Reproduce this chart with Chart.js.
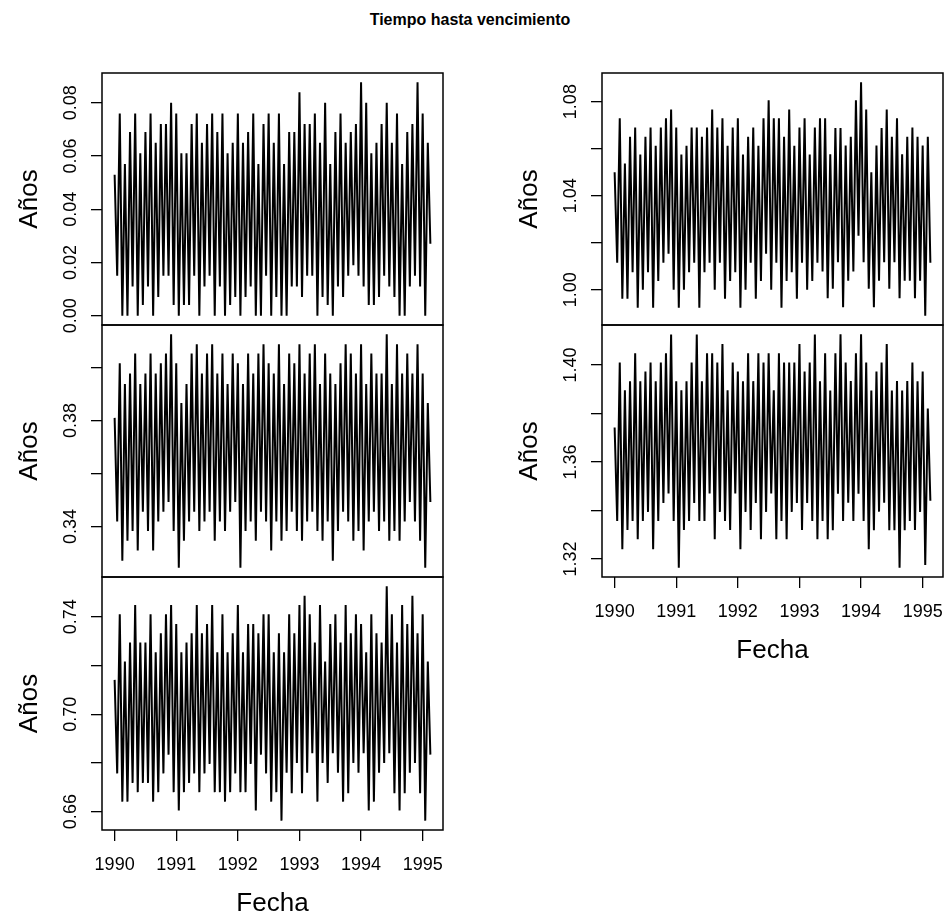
<!DOCTYPE html>
<html lang="es">
<head>
<meta charset="utf-8">
<title>Tiempo hasta vencimiento</title>
<script src="https://cdn.jsdelivr.net/npm/chart.js@4.4.1/dist/chart.umd.min.js"></script>
<style>
  body { margin: 0; background: #fff; width: 945px; height: 919px; position: relative; overflow: hidden; font-family: 'Liberation Sans', Arial, sans-serif; }
  canvas { position: absolute; }
  #titulo { position: absolute; top: 11px; left: 470px; transform: translateX(-50%); font-weight: bold; font-size: 16px; white-space: nowrap; color: #000; }
</style>
</head>
<body>
<div id="titulo">Tiempo hasta vencimiento</div>
<script>
// serie semi-mensual: 24 observaciones por año desde 1990
const inicio = 1990;
const frecuencia = 24;
const anios = [1990, 1991, 1992, 1993, 1994, 1995];

const serie1 = [
  0.053, 0.015, 0.076, 0.000, 0.057, 0.000, 0.069, 0.011, 0.076, 0.000,
  0.061, 0.004, 0.069, 0.011, 0.076, 0.000, 0.065, 0.007, 0.072, 0.015,
  0.072, 0.015, 0.080, 0.004, 0.076, 0.000, 0.061, 0.004, 0.061, 0.004,
  0.072, 0.015, 0.076, 0.000, 0.065, 0.011, 0.072, 0.015, 0.076, 0.000,
  0.069, 0.011, 0.076, 0.000, 0.061, 0.004, 0.065, 0.007, 0.076, 0.000,
  0.065, 0.007, 0.069, 0.011, 0.076, 0.000, 0.057, 0.000, 0.072, 0.015,
  0.076, 0.000, 0.065, 0.007, 0.076, 0.000, 0.057, 0.000, 0.069, 0.011,
  0.069, 0.011, 0.084, 0.007, 0.072, 0.015, 0.072, 0.015, 0.076, 0.000,
  0.065, 0.007, 0.080, 0.004, 0.057, 0.000, 0.069, 0.011, 0.076, 0.007,
  0.065, 0.015, 0.069, 0.019, 0.072, 0.015, 0.0877, 0.011, 0.080, 0.004,
  0.061, 0.004, 0.065, 0.007, 0.072, 0.015, 0.080, 0.011, 0.065, 0.007,
  0.076, 0.000, 0.057, 0.000, 0.069, 0.011, 0.072, 0.015, 0.0877, 0.011,
  0.076, 0.000, 0.065, 0.027
];

const serie2 = [
  0.3810, 0.3419, 0.4016, 0.3271, 0.3938, 0.3347, 0.3977, 0.3383, 0.4053, 0.3310,
  0.3938, 0.3456, 0.3977, 0.3383, 0.4053, 0.3310, 0.3977, 0.3419, 0.4016, 0.3456,
  0.4053, 0.3493, 0.4125, 0.3383, 0.4016, 0.3245, 0.3866, 0.3347, 0.3938, 0.3419,
  0.4053, 0.3456, 0.4088, 0.3383, 0.3977, 0.3419, 0.4053, 0.3456, 0.4088, 0.3347,
  0.3977, 0.3419, 0.4053, 0.3383, 0.3938, 0.3456, 0.4053, 0.3493, 0.4016, 0.3245,
  0.3938, 0.3383, 0.4053, 0.3419, 0.3977, 0.3347, 0.4053, 0.3456, 0.4088, 0.3419,
  0.4016, 0.3310, 0.3977, 0.3419, 0.4088, 0.3347, 0.3938, 0.3383, 0.4053, 0.3456,
  0.4016, 0.3383, 0.4088, 0.3347, 0.3977, 0.3419, 0.4053, 0.3456, 0.4088, 0.3383,
  0.3938, 0.3347, 0.4053, 0.3419, 0.3977, 0.3271, 0.3938, 0.3383, 0.4016, 0.3456,
  0.4088, 0.3419, 0.4053, 0.3347, 0.3977, 0.3383, 0.4088, 0.3310, 0.3938, 0.3419,
  0.4053, 0.3456, 0.3977, 0.3383, 0.3977, 0.3419, 0.4125, 0.3347, 0.3938, 0.3383,
  0.4088, 0.3347, 0.3977, 0.3419, 0.4053, 0.3493, 0.3977, 0.3419, 0.4088, 0.3347,
  0.3977, 0.3245, 0.3866, 0.3493
];

const serie3 = [
  0.7141, 0.6757, 0.7410, 0.6641, 0.7216, 0.6641, 0.7294, 0.6718, 0.7448, 0.6680,
  0.7294, 0.6718, 0.7294, 0.6718, 0.7410, 0.6641, 0.7254, 0.6680, 0.7332, 0.6757,
  0.7410, 0.6834, 0.7448, 0.6680, 0.7370, 0.6605, 0.7254, 0.6680, 0.7294, 0.6718,
  0.7332, 0.6757, 0.7448, 0.6680, 0.7332, 0.6757, 0.7370, 0.6796, 0.7448, 0.6680,
  0.7254, 0.6680, 0.7410, 0.6641, 0.7254, 0.6680, 0.7332, 0.6757, 0.7448, 0.6680,
  0.7254, 0.6680, 0.7370, 0.6796, 0.7370, 0.6605, 0.7332, 0.6834, 0.7410, 0.6757,
  0.7410, 0.6641, 0.7254, 0.6680, 0.7332, 0.6563, 0.7254, 0.6760, 0.7410, 0.6675,
  0.7332, 0.6800, 0.7448, 0.6675, 0.7486, 0.6760, 0.7410, 0.6840, 0.7294, 0.6641,
  0.7448, 0.6800, 0.7216, 0.6718, 0.7370, 0.6840, 0.7410, 0.6760, 0.7294, 0.6641,
  0.7448, 0.6675, 0.7332, 0.6800, 0.7410, 0.6760, 0.7370, 0.6840, 0.7254, 0.6605,
  0.7410, 0.6641, 0.7332, 0.6760, 0.7294, 0.6800, 0.7525, 0.6840, 0.7410, 0.6675,
  0.7294, 0.6605, 0.7448, 0.6675, 0.7370, 0.6760, 0.7486, 0.6800, 0.7332, 0.6675,
  0.7410, 0.6563, 0.7216, 0.6834
];

const serie4 = [
  1.0500, 1.0115, 1.0729, 0.9962, 1.0537, 0.9962, 1.0651, 1.0075, 1.0690, 0.9924,
  1.0575, 1.0000, 1.0651, 1.0075, 1.0690, 0.9924, 1.0612, 1.0037, 1.0690, 1.0115,
  1.0729, 1.0153, 1.0766, 1.0000, 1.0690, 0.9924, 1.0575, 1.0000, 1.0612, 1.0075,
  1.0690, 1.0115, 1.0690, 0.9924, 1.0651, 1.0075, 1.0690, 1.0115, 1.0766, 1.0000,
  1.0690, 1.0115, 1.0729, 0.9962, 1.0612, 1.0037, 1.0690, 1.0075, 1.0729, 0.9924,
  1.0575, 1.0000, 1.0651, 1.0115, 1.0690, 0.9962, 1.0612, 1.0037, 1.0729, 1.0153,
  1.0806, 1.0000, 1.0729, 1.0115, 1.0729, 0.9924, 1.0651, 1.0037, 1.0766, 1.0075,
  1.0612, 0.9962, 1.0690, 1.0115, 1.0729, 1.0000, 1.0575, 1.0037, 1.0690, 1.0115,
  1.0729, 1.0078, 1.0729, 0.9964, 1.0576, 1.0004, 1.0688, 1.0117, 1.0688, 0.9926,
  1.0613, 1.0039, 1.0651, 1.0078, 1.0806, 1.0230, 1.0882, 1.0117, 1.0766, 1.0004,
  1.0500, 0.9926, 1.0613, 1.0039, 1.0688, 1.0117, 1.0766, 1.0004, 1.0651, 1.0117,
  1.0729, 0.9964, 1.0576, 1.0039, 1.0651, 1.0039, 1.0690, 0.9964, 1.0651, 1.0039,
  1.0613, 0.9890, 1.0651, 1.0115
];

const serie5 = [
  1.3742, 1.3356, 1.4010, 1.3240, 1.3895, 1.3319, 1.3933, 1.3356, 1.4048, 1.3281,
  1.3933, 1.3356, 1.3973, 1.3394, 1.4010, 1.3240, 1.3933, 1.3356, 1.4010, 1.3431,
  1.4048, 1.3470, 1.4125, 1.3356, 1.3933, 1.3164, 1.3895, 1.3319, 1.3933, 1.3356,
  1.4010, 1.3431, 1.4125, 1.3356, 1.3933, 1.3356, 1.4048, 1.3470, 1.4048, 1.3281,
  1.4010, 1.3394, 1.4086, 1.3356, 1.3895, 1.3319, 1.4010, 1.3470, 1.3973, 1.3240,
  1.3933, 1.3394, 1.4048, 1.3319, 1.3933, 1.3431, 1.4048, 1.3281, 1.4010, 1.3394,
  1.4048, 1.3470, 1.3895, 1.3281, 1.4048, 1.3356, 1.4010, 1.3281, 1.4010, 1.3394,
  1.4010, 1.3431, 1.4086, 1.3319, 1.3973, 1.3431, 1.4010, 1.3356, 1.4125, 1.3281,
  1.3933, 1.3356, 1.4048, 1.3281, 1.3894, 1.3318, 1.4048, 1.3469, 1.4126, 1.3356,
  1.4010, 1.3432, 1.3934, 1.3356, 1.4048, 1.3469, 1.4126, 1.3356, 1.4010, 1.3240,
  1.3894, 1.3318, 1.3973, 1.3395, 1.4010, 1.3432, 1.4086, 1.3318, 1.3894, 1.3318,
  1.3934, 1.3164, 1.3894, 1.3318, 1.3934, 1.3356, 1.4010, 1.3319, 1.3933, 1.3394,
  1.3973, 1.3175, 1.3820, 1.3440
];

// etiquetas visibles del eje y (las marcas van cada 0.02)
const etiq1 = [0.00, 0.02, 0.04, 0.06, 0.08];
const etiq2 = [0.34, 0.38];
const etiq3 = [0.66, 0.70, 0.74];
const etiq4 = [1.00, 1.04, 1.08];
const etiq5 = [1.32, 1.36, 1.40];

const fuente = "'Liberation Sans', Arial, sans-serif";

// caja alrededor de cada panel, como box() en R
const marco = {
  id: 'marco',
  afterDraw(chart) {
    const a = chart.chartArea;
    const ctx = chart.ctx;
    ctx.save();
    ctx.strokeStyle = '#000';
    ctx.lineWidth = 1.5;
    ctx.strokeRect(a.left, a.top, a.right - a.left, a.bottom - a.top);
    ctx.restore();
  }
};

// rango con la extensión del 4% que usa R
function rango(v) {
  const lo = Math.min(...v), hi = Math.max(...v), d = (hi - lo) * 0.04;
  return [lo - d, hi + d];
}

function panel(serie, etiquetas, col, arriba, abajo, conEje) {
  const canvas = document.createElement('canvas');
  const margenArriba = 25;
  const margenAbajo = conEje ? 89 : 25;
  const ancho = 446;
  const alto = (abajo - arriba) + margenArriba + margenAbajo;
  canvas.width = ancho;
  canvas.height = alto;
  canvas.style.left = (col * 500) + 'px';
  canvas.style.top = (arriba - margenArriba) + 'px';
  document.body.appendChild(canvas);

  const tiempos = serie.map((_, i) => inicio + i / frecuencia);
  const [xmin, xmax] = rango(tiempos);
  const [ymin, ymax] = rango(serie);

  new Chart(canvas.getContext('2d'), {
    type: 'line',
    data: {
      datasets: [{
        data: serie.map((v, i) => ({ x: tiempos[i], y: v })),
        borderColor: '#000',
        borderWidth: 2,
        pointRadius: 0,
        tension: 0,
        fill: false
      }]
    },
    options: {
      responsive: false,
      animation: false,
      events: [],
      layout: { padding: { top: margenArriba, bottom: conEje ? 0 : margenAbajo, left: 0, right: 3 } },
      plugins: { legend: { display: false }, tooltip: { enabled: false } },
      scales: {
        x: {
          type: 'linear',
          display: conEje,
          min: xmin,
          max: xmax,
          afterFit: s => {
            if (conEje) s.height = 89;
            s.paddingLeft = 0;
            s.paddingRight = 0;
          },
          border: { display: false },
          grid: { drawOnChartArea: false, drawTicks: true, tickLength: 11, color: '#000', lineWidth: 1.3 },
          ticks: {
            stepSize: 1,
            includeBounds: false,
            autoSkip: false,
            maxRotation: 0,
            padding: 13,
            color: '#000',
            font: { family: fuente, size: 18 },
            callback: v => anios.includes(v) ? String(v) : ''
          },
          title: { display: true, text: 'Fecha', color: '#000', font: { family: fuente, size: 26 }, padding: 0 }
        },
        y: {
          min: ymin,
          max: ymax,
          afterFit: s => {
            s.width = 102;
            s.paddingTop = 0;
            s.paddingBottom = 0;
          },
          border: { display: false },
          grid: { drawOnChartArea: false, drawTicks: true, tickLength: 11, color: '#000', lineWidth: 1.3 },
          ticks: {
            stepSize: 0.02,
            includeBounds: false,
            autoSkip: false,
            minRotation: 90,
            maxRotation: 90,
            crossAlign: 'center',
            padding: 2,
            color: '#000',
            font: { family: fuente, size: 18 },
            callback: v => etiquetas.some(e => Math.abs(e - v) < 1e-6) ? v.toFixed(2) : ''
          },
          title: { display: true, text: 'Años', color: '#000', font: { family: fuente, size: 26 }, padding: { top: 14, bottom: 0 } }
        }
      }
    },
    plugins: [marco]
  });
}

panel(serie1, etiq1, 0, 73, 325, false);
panel(serie2, etiq2, 0, 325, 577, false);
panel(serie3, etiq3, 0, 577, 830, true);
panel(serie4, etiq4, 1, 73, 325, false);
panel(serie5, etiq5, 1, 325, 577, true);
</script>
</body>
</html>
